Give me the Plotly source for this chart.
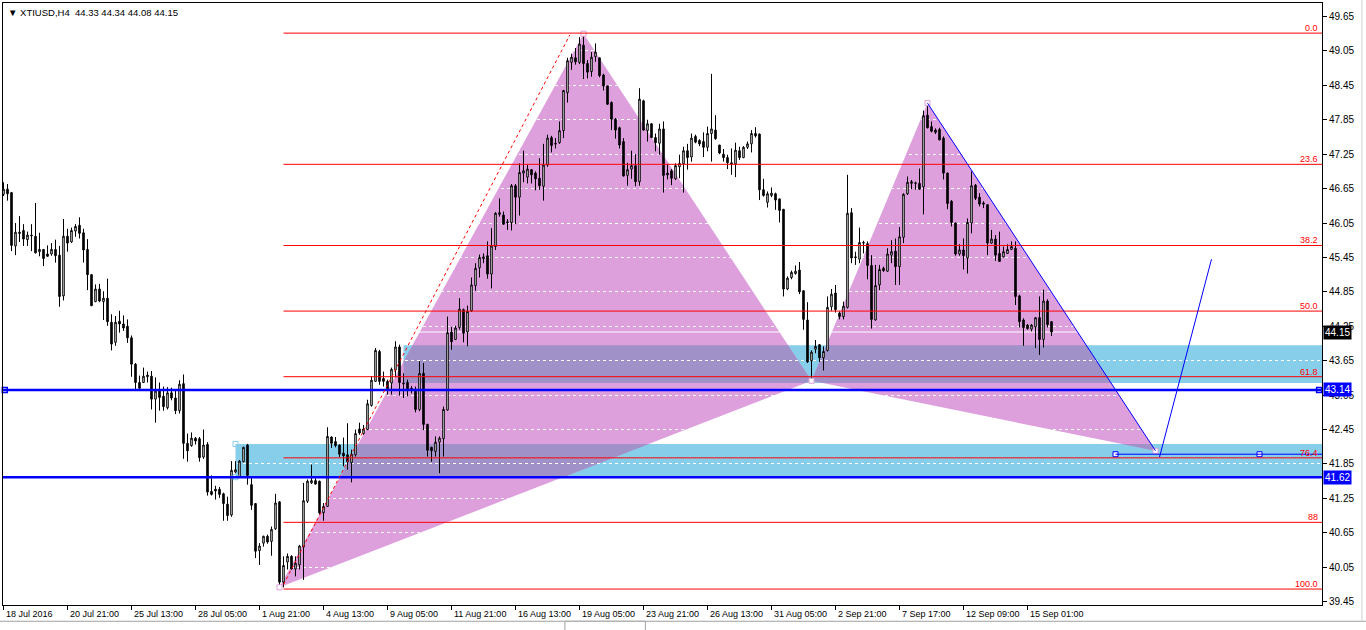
import plotly.graph_objects as go

# ---------------- data ----------------
symbol = "XTIUSD,H4"

opens = [46.55, 46.64, 46.58, 45.65, 45.89, 45.92, 45.76, 45.84, 45.82, 45.55,
         45.59, 45.51, 45.51, 45.59, 45.49, 44.78, 45.82, 45.72, 45.91, 46.01,
         45.88, 45.59, 45.15, 44.68, 44.90, 44.68, 44.74, 44.32, 43.97, 44.34,
         44.29, 44.25, 44.05, 43.59, 43.27, 43.27, 43.37, 43.38, 42.98, 43.12,
         43.03, 42.83, 43.09, 43.00, 42.78, 43.25, 42.21, 42.17, 42.30, 42.29,
         41.97, 42.19, 41.37, 41.41, 41.41, 41.33, 41.15, 40.96, 41.71, 41.63,
         41.89, 42.18, 41.49, 41.16, 40.34, 40.47, 40.59, 40.50, 40.72, 41.19,
         39.79, 40.14, 40.24, 40.02, 40.09, 40.40, 41.20, 41.52, 41.56, 41.55,
         41.00, 41.11, 42.32, 42.24, 42.18, 42.04, 42.01, 41.87, 42.01, 42.46,
         42.38, 42.45, 42.87, 43.29, 43.81, 43.34, 43.29, 43.26, 43.49, 43.89,
         43.26, 43.27, 43.17, 43.15, 42.80, 43.43, 42.54, 42.14, 42.07, 42.23,
         42.29, 42.79, 44.15, 44.02, 44.23, 44.54, 44.15, 44.52, 44.96, 45.27,
         45.43, 45.48, 45.16, 45.64, 46.20, 46.19, 46.07, 46.06, 46.70, 46.50,
         46.92, 46.85, 46.98, 46.92, 46.83, 46.69, 47.06, 47.54, 47.44, 47.45,
         47.66, 48.32, 48.85, 48.93, 48.85, 49.15, 48.83, 48.69, 48.95, 48.93,
         48.63, 48.44, 48.15, 47.86, 47.71, 47.47, 46.88, 46.99, 47.05, 46.77,
         48.18, 47.66, 47.78, 47.54, 47.44, 47.69, 46.92, 46.96, 46.82, 47.03,
         47.08, 47.31, 47.20, 47.56, 47.49, 47.47, 47.37, 47.61, 47.67, 47.41,
         47.25, 47.19, 47.10, 47.08, 47.31, 47.19, 47.37, 47.43, 47.61, 47.60,
         46.63, 46.41, 46.53, 46.56, 46.47, 46.29, 44.90, 45.10, 45.17, 45.23,
         44.87, 44.36, 43.65, 43.85, 43.93, 43.70, 43.83, 44.59, 44.83, 44.48,
         44.42, 44.58, 46.23, 45.46, 45.42, 45.70, 45.69, 45.31, 44.36, 44.97,
         45.26, 45.21, 45.49, 45.56, 45.29, 45.80, 46.56, 46.74, 46.74, 46.74,
         46.68, 47.93, 47.73, 47.67, 47.68, 47.53, 46.92, 46.43, 46.05, 45.51,
         45.58, 45.44, 46.05, 46.71, 46.50, 46.40, 46.37, 45.70, 45.77, 45.52,
         45.46, 45.52, 45.59, 45.61, 44.78, 44.36, 44.27, 44.20, 44.24, 44.40,
         44.02, 44.69, 44.33]

highs = [46.76, 46.73, 46.59, 46.05, 46.17, 46.03, 45.90, 46.03, 46.40, 45.88,
         45.59, 45.66, 45.70, 45.76, 45.65, 46.12, 45.95, 45.97, 46.03, 46.15,
         45.95, 45.77, 45.16, 44.98, 44.99, 44.86, 45.08, 44.46, 44.43, 44.52,
         44.44, 44.37, 44.09, 43.61, 43.39, 43.53, 43.46, 43.47, 43.36, 43.27,
         43.20, 43.19, 43.18, 43.14, 43.31, 43.41, 42.38, 42.40, 42.32, 42.32,
         42.45, 42.23, 41.65, 41.47, 41.45, 41.35, 41.28, 41.90, 41.90, 41.92,
         42.15, 42.20, 41.63, 41.17, 40.47, 40.60, 40.62, 40.76, 41.33, 41.20,
         40.24, 40.29, 40.26, 40.24, 40.44, 41.52, 41.58, 41.84, 41.60, 41.56,
         41.17, 42.49, 42.33, 42.32, 42.19, 42.31, 42.56, 42.10, 42.45, 42.57,
         42.53, 42.97, 43.38, 43.87, 43.84, 43.46, 43.32, 43.53, 43.99, 43.93,
         43.43, 43.32, 43.21, 43.20, 43.64, 43.61, 42.55, 42.15, 42.33, 42.33,
         42.85, 44.42, 44.24, 44.26, 44.74, 44.56, 44.61, 45.10, 45.35, 45.50,
         45.52, 45.73, 45.96, 46.24, 46.48, 46.25, 46.12, 46.73, 46.73, 47.09,
         47.31, 47.06, 46.99, 46.95, 47.18, 47.43, 47.59, 47.57, 47.53, 47.82,
         48.37, 48.93, 49.00, 49.10, 49.29, 49.35, 48.89, 49.03, 49.18, 48.93,
         48.65, 48.44, 48.17, 47.88, 47.73, 47.53, 47.10, 47.31, 47.25, 48.40,
         48.20, 47.85, 47.79, 47.61, 47.78, 47.82, 47.08, 46.99, 47.09, 47.24,
         47.38, 47.43, 47.61, 47.59, 47.51, 47.63, 47.73, 48.65, 47.93, 47.41,
         47.34, 47.24, 47.35, 47.45, 47.38, 47.39, 47.47, 47.67, 47.72, 47.61,
         46.82, 46.60, 46.67, 46.58, 46.48, 46.29, 45.12, 45.22, 45.31, 45.37,
         44.87, 44.67, 43.83, 44.01, 43.93, 43.90, 44.77, 44.90, 44.97, 44.51,
         44.68, 46.89, 46.31, 45.55, 45.97, 45.74, 45.73, 45.49, 45.32, 45.32,
         45.29, 45.61, 45.75, 45.78, 45.98, 46.57, 46.86, 46.80, 46.77, 47.00,
         48.01, 48.13, 47.82, 47.70, 47.71, 47.56, 46.93, 46.45, 46.06, 45.68,
         45.78, 46.13, 46.95, 46.73, 46.57, 46.43, 46.37, 45.93, 45.84, 45.90,
         45.64, 45.68, 45.73, 45.73, 44.80, 44.39, 44.29, 44.29, 44.41, 44.77,
         44.89, 44.72, 44.34]

lows = [46.52, 46.44, 45.56, 45.49, 45.72, 45.65, 45.65, 45.56, 45.52, 45.47,
        45.30, 45.46, 45.48, 45.36, 44.59, 44.70, 45.55, 45.70, 45.81, 45.78,
        45.36, 44.88, 44.60, 44.67, 44.67, 44.36, 44.26, 43.83, 43.91, 44.14,
        44.17, 43.96, 43.37, 43.14, 43.13, 43.26, 43.27, 42.80, 42.57, 42.78,
        42.78, 42.80, 42.96, 42.72, 42.73, 41.94, 41.89, 42.15, 42.19, 41.89,
        41.94, 41.30, 41.30, 41.23, 41.26, 40.86, 40.86, 40.93, 41.69, 41.62,
        41.88, 41.49, 41.05, 40.21, 40.09, 40.41, 40.46, 40.25, 40.70, 39.72,
        39.70, 40.01, 40.01, 39.89, 40.01, 39.83, 41.17, 41.50, 41.49, 40.97,
        40.86, 41.10, 42.13, 42.14, 41.97, 41.81, 41.75, 41.53, 41.98, 42.36,
        42.36, 42.44, 42.85, 43.28, 43.23, 43.20, 43.06, 43.06, 43.36, 43.04,
        43.00, 43.03, 43.08, 42.75, 42.77, 42.44, 41.98, 41.89, 41.98, 41.69,
        41.98, 42.78, 43.84, 44.01, 44.19, 43.97, 43.90, 44.50, 44.87, 45.10,
        45.35, 45.08, 44.91, 45.58, 46.16, 46.02, 45.93, 45.92, 46.03, 46.18,
        46.76, 46.74, 46.74, 46.62, 46.63, 46.44, 47.03, 47.28, 47.35, 47.43,
        47.53, 48.15, 48.72, 48.81, 48.82, 48.56, 48.57, 48.60, 48.86, 48.59,
        48.36, 48.11, 47.67, 47.52, 47.35, 46.86, 46.70, 46.82, 46.69, 46.70,
        47.66, 47.47, 47.53, 47.30, 47.24, 46.58, 46.81, 46.71, 46.80, 46.83,
        46.58, 46.98, 47.12, 47.44, 47.39, 47.20, 47.30, 47.12, 47.50, 47.25,
        47.12, 46.99, 46.89, 46.85, 47.15, 47.18, 47.34, 47.28, 47.54, 46.45,
        46.51, 46.32, 46.50, 46.28, 46.06, 44.77, 44.88, 45.07, 45.15, 44.81,
        44.19, 43.61, 43.30, 43.78, 43.63, 43.48, 43.81, 44.52, 44.49, 44.37,
        44.37, 44.56, 45.35, 45.32, 45.35, 45.52, 45.07, 44.21, 44.35, 44.88,
        45.20, 45.20, 45.35, 44.97, 44.97, 45.70, 46.54, 46.64, 46.63, 46.63,
        46.20, 47.70, 47.63, 47.60, 47.49, 46.81, 46.29, 45.99, 45.48, 45.48,
        45.24, 45.17, 45.87, 46.45, 46.34, 46.31, 45.49, 45.69, 45.39, 45.37,
        45.45, 45.51, 45.58, 44.62, 44.23, 43.91, 44.19, 44.16, 43.87, 43.75,
        43.88, 44.23, 44.08]

closes = [46.64, 46.56, 45.66, 45.89, 45.87, 45.77, 45.84, 45.83, 45.53, 45.59,
          45.43, 45.47, 45.59, 45.48, 44.77, 45.82, 45.70, 45.92, 45.99, 45.87,
          45.58, 45.15, 44.61, 44.90, 44.69, 44.74, 44.33, 43.94, 44.32, 44.29,
          44.22, 44.05, 43.59, 43.27, 43.17, 43.38, 43.40, 42.98, 43.12, 43.01,
          42.85, 43.09, 43.00, 42.78, 43.24, 42.21, 42.08, 42.30, 42.25, 41.96,
          42.18, 41.36, 41.32, 41.38, 41.32, 41.16, 40.95, 41.74, 41.75, 41.90,
          42.14, 41.65, 41.13, 40.33, 40.42, 40.59, 40.49, 40.71, 41.17, 39.79,
          40.08, 40.24, 40.02, 40.12, 40.42, 41.21, 41.55, 41.56, 41.50, 41.00,
          41.11, 42.33, 42.21, 42.17, 42.02, 41.99, 41.89, 42.02, 42.38, 42.39,
          42.46, 42.90, 43.31, 43.83, 43.29, 43.29, 43.16, 43.50, 43.89, 43.27,
          43.25, 43.14, 43.14, 42.80, 43.43, 42.54, 42.09, 42.08, 42.23, 42.30,
          42.80, 44.14, 43.98, 44.22, 44.55, 44.13, 44.51, 44.97, 45.26, 45.45,
          45.46, 45.16, 45.65, 46.22, 46.23, 46.03, 46.06, 46.70, 46.50, 46.93,
          46.96, 46.99, 46.89, 46.82, 46.70, 47.06, 47.53, 47.40, 47.43, 47.66,
          48.36, 48.88, 48.94, 48.86, 49.17, 48.83, 48.68, 48.94, 49.03, 48.62,
          48.44, 48.12, 47.86, 47.67, 47.41, 46.87, 46.98, 47.05, 46.77, 48.21,
          47.67, 47.78, 47.54, 47.45, 47.69, 46.88, 46.89, 46.83, 47.05, 47.09,
          47.31, 47.19, 47.53, 47.46, 47.43, 47.37, 47.61, 47.69, 47.52, 47.27,
          47.19, 47.10, 47.08, 47.32, 47.19, 47.37, 47.43, 47.61, 47.57, 46.63,
          46.53, 46.56, 46.57, 46.45, 46.27, 44.90, 45.09, 45.19, 45.21, 44.85,
          44.37, 43.63, 43.80, 43.90, 43.70, 43.81, 44.58, 44.81, 44.54, 44.42,
          44.60, 46.22, 45.44, 45.45, 45.71, 45.71, 45.31, 44.37, 44.96, 45.24,
          45.22, 45.51, 45.55, 45.29, 45.81, 46.55, 46.76, 46.77, 46.75, 46.64,
          47.92, 47.71, 47.65, 47.63, 47.50, 46.92, 46.39, 46.06, 45.51, 45.58,
          45.48, 46.06, 46.70, 46.48, 46.38, 46.38, 45.70, 45.77, 45.49, 45.38,
          45.55, 45.59, 45.64, 44.77, 44.33, 44.23, 44.21, 44.27, 44.40, 44.02,
          44.69, 44.28, 44.15]

x_labels = ["18 Jul 2016", "20 Jul 21:00", "25 Jul 13:00", "28 Jul 05:00",
            "1 Aug 21:00", "4 Aug 13:00", "9 Aug 05:00", "11 Aug 21:00",
            "16 Aug 13:00", "19 Aug 05:00", "23 Aug 21:00", "26 Aug 13:00",
            "31 Aug 05:00", "2 Sep 21:00", "7 Sep 17:00", "12 Sep 09:00",
            "15 Sep 01:00"]
bars_per_label = 16

y_ticks = [39.45, 40.05, 40.65, 41.25, 41.85, 42.45, 43.05, 43.65, 44.25,
           44.85, 45.45, 46.05, 46.65, 47.25, 47.85, 48.45, 49.05, 49.65]

fib_levels = [0.0, 23.6, 38.2, 50.0, 61.8, 76.4, 88.0, 100.0]
fib_price_0 = 49.36
fib_price_100 = 39.67
fib_start_bar = 70

# harmonic pattern X, A, B, C, D
pattern_bars = [69, 145, 202, 231, 288]
pattern_prices = [39.70, 49.35, 43.30, 48.14, 42.08]

support_levels = [43.14, 41.62]
zone_upper_prices = [43.26, 43.92]
zone_upper_start = 100
zone_lower_prices = [41.62, 42.20]
zone_lower_start = 58

projection_bars = [289, 302]
projection_prices = [41.97, 45.42]
target_bars = [278, 314]
target_price = 42.02
dotted_bars = [70, 141.6]
dotted_prices = [39.75, 49.33]
current_price = 44.15

# ---------------- styling ----------------
PLUM = "#DDA0DD"
SKY = "#87CEEB"
OVER = "#A091C8"
BLUE = "#0000FF"
RED = "#FF0000"
FONT = "Liberation Sans, Arial, sans-serif"

n = len(closes)
xs = list(range(n))
X_MIN, X_MAX = -0.125, 329.625
Y_MIN, Y_MAX = 39.392, 49.885
X_FAR = 340


def clip_poly(poly, x0, x1, y0, y1):
    def clip_edge(pts, inside, inter):
        out = []
        for k in range(len(pts)):
            cur, prev = pts[k], pts[k - 1]
            if inside(cur):
                if not inside(prev):
                    out.append(inter(prev, cur))
                out.append(cur)
            elif inside(prev):
                out.append(inter(prev, cur))
        return out

    def ix(p, q, xv):
        t = (xv - p[0]) / (q[0] - p[0])
        return (xv, p[1] + t * (q[1] - p[1]))

    def iy(p, q, yv):
        t = (yv - p[1]) / (q[1] - p[1])
        return (p[0] + t * (q[0] - p[0]), yv)

    pts = list(poly)
    for inside, inter in [
        (lambda p: p[0] >= x0, lambda p, q: ix(p, q, x0)),
        (lambda p: p[0] <= x1, lambda p, q: ix(p, q, x1)),
        (lambda p: p[1] >= y0, lambda p, q: iy(p, q, y0)),
        (lambda p: p[1] <= y1, lambda p, q: iy(p, q, y1)),
    ]:
        if not pts:
            break
        pts = clip_edge(pts, inside, inter)
    return pts


def path_of(pts):
    return "M " + " L ".join(f"{a},{b}" for a, b in pts) + " Z"


pattern_pts = list(zip(pattern_bars, pattern_prices))
triangles = [pattern_pts[0:3], pattern_pts[2:5]]
zones = [(zone_upper_start, zone_upper_prices), (zone_lower_start, zone_lower_prices)]

shapes = []
for start, (lo, hi) in zones:
    shapes.append(dict(type="rect", xref="x", yref="y", x0=start, x1=X_FAR, y0=lo, y1=hi,
                       fillcolor=SKY, line=dict(width=0), layer="below"))
for tri in triangles:
    shapes.append(dict(type="path", xref="x", yref="y", path=path_of(tri),
                       fillcolor=PLUM, line=dict(width=0), layer="below"))
for tri in triangles:
    for start, (lo, hi) in zones:
        pts = clip_poly(tri, start, X_FAR, lo, hi)
        if len(pts) >= 3:
            shapes.append(dict(type="path", xref="x", yref="y", path=path_of(pts),
                               fillcolor=OVER, line=dict(width=0), layer="below"))

# current price line (white)
shapes.append(dict(type="line", xref="x", yref="y", x0=X_MIN - 5, x1=X_FAR, y0=current_price,
                   y1=current_price, line=dict(color="white", width=1), layer="between"))

# fibonacci lines
fib_prices = [fib_price_0 - lv / 100.0 * (fib_price_0 - fib_price_100) for lv in fib_levels]
for pr in fib_prices:
    shapes.append(dict(type="line", xref="x", yref="y", x0=fib_start_bar, x1=X_FAR, y0=pr, y1=pr,
                       line=dict(color=RED, width=1), layer="above"))

# support lines
for lv in support_levels:
    shapes.append(dict(type="line", xref="x", yref="y", x0=X_MIN - 5, x1=X_FAR, y0=lv, y1=lv,
                       line=dict(color=BLUE, width=2.5), layer="above"))

shapes.append(dict(type="line", xref="x", yref="y", x0=pattern_bars[3], y0=pattern_prices[3],
                   x1=pattern_bars[4], y1=pattern_prices[4], line=dict(color=BLUE, width=1),
                   layer="above"))
shapes.append(dict(type="line", xref="x", yref="y", x0=projection_bars[0], y0=projection_prices[0],
                   x1=projection_bars[1], y1=projection_prices[1], line=dict(color=BLUE, width=1),
                   layer="above"))
shapes.append(dict(type="line", xref="x", yref="y", x0=target_bars[0], y0=target_price,
                   x1=X_FAR, y1=target_price, line=dict(color=BLUE, width=1), layer="above"))
shapes.append(dict(type="line", xref="x", yref="y", x0=dotted_bars[0], y0=dotted_prices[0],
                   x1=dotted_bars[1], y1=dotted_prices[1], line=dict(color=RED, width=1, dash="dot"),
                   layer="above"))

# frame decorations outside plot
shapes.append(dict(type="line", xref="paper", yref="paper", x0=-0.01, x1=1.04, y0=-0.027, y1=-0.027,
                   line=dict(color="#A0A0A0", width=1)))
shapes.append(dict(type="rect", xref="paper", yref="paper", x0=0.426, x1=0.487, y0=-0.045, y1=-0.027,
                   fillcolor="white", line=dict(color="#A0A0A0", width=1)))
shapes.append(dict(type="line", xref="paper", yref="paper", x0=1.0303, x1=1.0303, y0=-0.027, y1=1.01,
                   line=dict(color="#D0D0D0", width=1)))

fig = go.Figure()
fig.add_trace(go.Candlestick(
    x=xs, open=opens, high=highs, low=lows, close=closes,
    increasing=dict(line=dict(color="black", width=1), fillcolor="white"),
    decreasing=dict(line=dict(color="black", width=1), fillcolor="black"),
    whiskerwidth=0, hoverinfo="none", showlegend=False,
))

fig.add_trace(go.Scatter(
    x=[X_MIN + 0.45, 328.9], y=[support_levels[0], support_levels[0]], mode="markers",
    marker=dict(symbol="square", size=5, color="white", line=dict(color=BLUE, width=1.5)),
    hoverinfo="skip", showlegend=False, cliponaxis=False))
fig.add_trace(go.Scatter(
    x=target_bars, y=[target_price, target_price], mode="markers",
    marker=dict(symbol="square", size=5, color="white", line=dict(color=BLUE, width=1)),
    hoverinfo="skip", showlegend=False))
fig.add_trace(go.Scatter(
    x=[zone_lower_start, zone_lower_start], y=[zone_lower_prices[1], zone_lower_prices[0]],
    mode="markers",
    marker=dict(symbol="square", size=5, color="rgba(255,255,255,0)", line=dict(color=SKY, width=1)),
    hoverinfo="skip", showlegend=False))
fig.add_trace(go.Scatter(
    x=pattern_bars, y=pattern_prices, mode="markers",
    marker=dict(symbol="square", size=5, color="white", line=dict(color=PLUM, width=1)),
    hoverinfo="skip", showlegend=False))

annotations = []
last = n - 1
annotations.append(dict(
    xref="paper", yref="paper", x=0.002, y=1.0, xanchor="left", yanchor="top", yshift=-2,
    text=f"▼ {symbol}&nbsp; {opens[last]:.2f} {highs[last]:.2f} {lows[last]:.2f} {closes[last]:.2f}",
    showarrow=False, font=dict(family=FONT, size=9.5, color="black")))
for k, lab in enumerate(x_labels):
    annotations.append(dict(
        xref="x", yref="paper", x=k * bars_per_label, y=0, xanchor="left", yanchor="top",
        xshift=0, yshift=-2, text=lab, showarrow=False,
        font=dict(family=FONT, size=9, color="black")))
for lv, pr in zip(fib_levels, fib_prices):
    annotations.append(dict(
        xref="paper", yref="y", x=1, y=pr, xanchor="right", yanchor="bottom", xshift=-2, yshift=-2,
        text=f"{lv:.1f}" if lv != 88.0 else "88", showarrow=False,
        font=dict(family=FONT, size=9, color=RED)))
for pr, bg in [(current_price, "black"), (support_levels[0], BLUE), (support_levels[1], BLUE)]:
    annotations.append(dict(
        xref="paper", yref="y", x=1, y=pr, xanchor="left", yanchor="middle", xshift=1,
        text=f"{pr:.2f}", showarrow=False, bgcolor=bg, borderpad=1,
        font=dict(family=FONT, size=10, color="white")))

fig.update_layout(
    width=1366, height=630,
    margin=dict(l=3, r=44, t=3, b=25),
    paper_bgcolor="white", plot_bgcolor="white",
    shapes=shapes, annotations=annotations,
    boxgap=0.45,
    showlegend=False,
    xaxis=dict(
        range=[X_MIN, X_MAX], rangeslider=dict(visible=False), showgrid=False, zeroline=False,
        showline=True, mirror=True, linecolor="black", linewidth=1,
        tickvals=[k * bars_per_label for k in range(len(x_labels))], ticktext=[""] * len(x_labels),
        ticks="outside", ticklen=4, tickcolor="black", showticklabels=False, fixedrange=True,
    ),
    yaxis=dict(
        range=[Y_MIN, Y_MAX], side="right", tickvals=y_ticks,
        ticktext=[f"{v:.2f}" for v in y_ticks],
        ticks="outside", ticklen=4, tickcolor="black",
        showgrid=True, gridcolor="white", griddash="3px,3px", gridwidth=1, zeroline=False,
        showline=True, mirror=True, linecolor="black", linewidth=1,
        tickfont=dict(family=FONT, size=10, color="black"), fixedrange=True,
    ),
)

fig.write_html(
    "out.html",
    config={"displayModeBar": False},
    post_script="document.body.style.margin='0px';document.body.style.overflow='hidden';",
)
